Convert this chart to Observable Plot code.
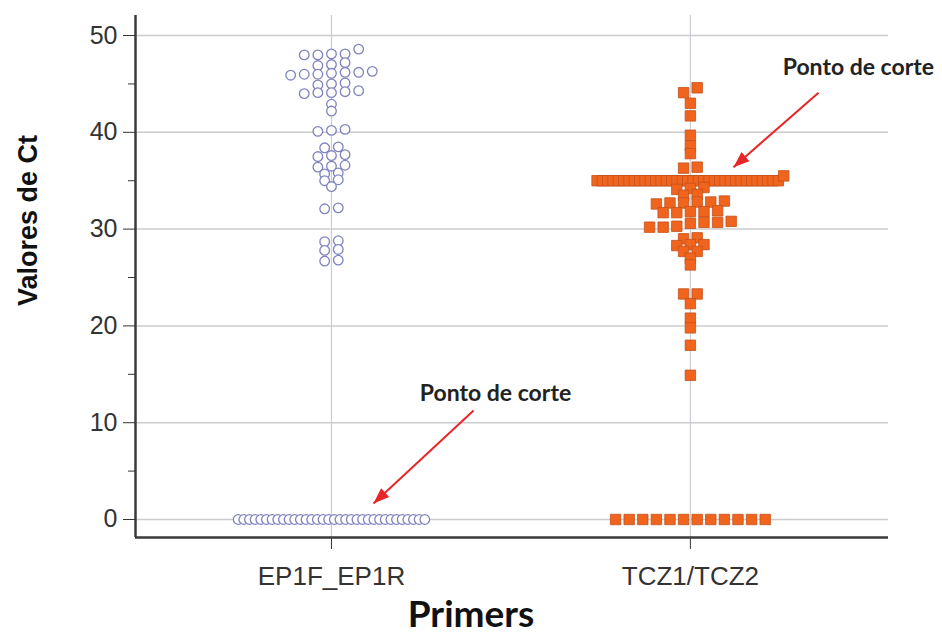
<!DOCTYPE html>
<html>
<head>
<meta charset="utf-8">
<script src="https://cdn.jsdelivr.net/npm/d3@7"></script>
<script src="https://cdn.jsdelivr.net/npm/@observablehq/plot@0.6"></script>
<style>
  html, body { margin: 0; padding: 0; background: #ffffff; }
  #chart { width: 942px; height: 636px; }
</style>
</head>
<body>
<div id="chart"></div>
<script>
// ---------- data ----------
const primers = ["EP1F_EP1R", "TCZ1/TCZ2"];

const ep1Values = [
  48.6, 48.1, 48.1, 48.0, 48.0,
  47.2, 47.0, 46.9,
  46.3, 46.2, 46.0, 46.1, 46.0, 45.9, 46.2,
  45.1, 45.0, 44.9,
  44.3, 44.2, 44.1, 44.0, 44.1,
  42.9, 42.2,
  40.3, 40.2, 40.1,
  38.5, 38.4,
  37.7, 37.6, 37.5,
  36.6, 36.5, 36.4,
  35.8, 35.7,
  35.1, 35.0,
  34.4,
  32.2, 32.1,
  28.8, 28.7,
  27.9, 27.8,
  26.8, 26.7,
  0, 0, 0, 0, 0, 0, 0, 0, 0, 0, 0, 0, 0, 0, 0, 0, 0,
  0, 0, 0, 0, 0, 0, 0, 0, 0, 0, 0, 0, 0, 0, 0, 0, 0
];

const tczValues = [
  44.6, 44.1,
  43.0, 41.7,
  39.7, 38.6, 37.8,
  36.4, 36.3,
  35.5,
  35.0, 35.0, 35.0, 35.0, 35.0, 35.0, 35.0, 35.0, 35.0, 35.0,
  35.0, 35.0, 35.0, 35.0, 35.0, 35.0, 35.0, 35.0, 35.0, 35.0,
  35.0, 35.0, 35.0, 35.0, 35.0, 35.0, 35.0, 35.0, 35.0, 35.0,
  35.0, 35.0, 35.0, 35.0, 35.0,
  34.3, 34.2, 34.1,
  33.6, 33.5,
  32.9, 32.8, 32.7, 32.7, 32.8, 32.6,
  31.9, 31.8, 31.7, 31.8, 31.7,
  30.8, 30.7, 30.7, 30.6, 30.2, 30.2, 30.3,
  29.1, 29.0,
  28.4, 28.4, 28.3,
  27.7, 27.7,
  27.0,
  26.3,
  23.3, 23.3,
  22.3, 20.8, 19.8, 18.0, 14.9,
  0, 0, 0, 0, 0, 0, 0, 0, 0, 0, 0, 0
];

const majorTicks = [0, 10, 20, 30, 40, 50];
const minorTicks = [5, 15, 25, 35, 45];

const notes = [
  {x: 0.457, y: 13.0, text: "Ponto de corte"},
  {x: 1.468, y: 46.7, text: "Ponto de corte"}
];
const arrows = [
  {x1: 0.396, y1: 11.26, x2: 0.117, y2: 1.65},
  {x1: 1.357, y1: 44.1, x2: 1.12, y2: 36.4}
];

// ---------- layout ----------
const W = 942, H = 636;
const mL = 135, mR = 54, mT = 15, mB = 99;
const xDomain = [-0.546, 1.552];
const yDomain = [-1.86, 52.07];

// individual-value-plot style rows: near-equal values sit side by side
const ROW_GAP = 0.65, STEP = 0.0379, MAX_SPAN = 0.52;
function layout(values, index) {
  const sorted = values.slice().sort((a, b) => b - a);
  const groups = [];
  for (const v of sorted) {
    const g = groups[groups.length - 1];
    if (g && g[0] - v < ROW_GAP) g.push(v); else groups.push([v]);
  }
  const out = [];
  for (const g of groups) {
    g.sort((a, b) => a - b);
    const n = g.length;
    const step = n > 1 ? Math.min(STEP, MAX_SPAN / (n - 1)) : 0;
    g.forEach((v, i) => out.push({primer: primers[index], pos: index + (i - (n - 1) / 2) * step, value: v}));
  }
  return out;
}
const ep1Data = layout(ep1Values, 0);
const tczData = layout(tczValues, 1);

const sx = Plot.scale({x: {domain: xDomain, range: [mL, W - mR]}});
const sy = Plot.scale({y: {domain: yDomain, range: [H - mB, mT]}});
const heads = arrows.map(a => ({
  x: a.x2, y: a.y2,
  angle: Math.atan2(sx.apply(a.x2) - sx.apply(a.x1), -(sy.apply(a.y2) - sy.apply(a.y1))) * 180 / Math.PI
}));

const ink = "#333333";
const chart = Plot.plot({
  width: W, height: H,
  marginLeft: mL, marginRight: mR, marginTop: mT, marginBottom: mB,
  x: {domain: xDomain, axis: null},
  y: {domain: yDomain, axis: null},
  style: {fontFamily: "'Liberation Sans', Arial, sans-serif", background: "white", overflow: "visible"},
  marks: [
    Plot.gridY({ticks: majorTicks, stroke: "#cccccc", strokeOpacity: 1, strokeWidth: 1.5}),
    Plot.gridX({ticks: [0, 1], stroke: "#c9ced6", strokeOpacity: 1, strokeWidth: 1.2}),
    Plot.axisY({ticks: majorTicks, tickSize: 12, tickPadding: 6, fontSize: 25, fill: ink, stroke: ink, label: null}),
    Plot.axisY({ticks: minorTicks, tickSize: 7, tickFormat: () => "", stroke: ink, label: null}),
    Plot.axisX({ticks: [0, 1], tickFormat: i => primers[i], tickSize: 12, tickPadding: 17, fontSize: 26, fill: ink, stroke: ink, label: null}),
    Plot.ruleX([xDomain[0]], {stroke: "#3a3a3a", strokeWidth: 2.5}),
    Plot.ruleY([yDomain[0]], {stroke: "#3a3a3a", strokeWidth: 2.5}),
    Plot.dot(ep1Data, {x: "pos", y: "value", r: 4.8, fill: "white", stroke: "#7f83bd", strokeWidth: 1.3}),
    Plot.dot(tczData, {x: "pos", y: "value", symbol: "square", r: 5.9, fill: "#f0641e", stroke: "#c4501c", strokeWidth: 0.8}),
    Plot.link(arrows, {x1: "x1", y1: "y1", x2: "x2", y2: "y2", stroke: "#e8262a", strokeWidth: 2}),
    Plot.vector(heads, {x: "x", y: "y", rotate: "angle", length: 16, r: 6, shape: "spike", anchor: "end", fill: "#e8262a", stroke: "none"}),
    Plot.text(notes, {x: "x", y: "y", text: "text", fontSize: 23, fontWeight: "bold", fill: "#222222", fontFamily: "Lato, 'Open Sans', sans-serif"}),
    Plot.text(["Valores de Ct"], {frameAnchor: "left", textAnchor: "middle", lineAnchor: "middle", rotate: -90, dx: -107, dy: -56, fontSize: 27, fontWeight: "bold", fill: "#111111"}),
    Plot.text(["Primers"], {frameAnchor: "bottom", textAnchor: "middle", dx: -41, dy: 89, fontSize: 37, fontWeight: "bold", fill: "#111111", fontFamily: "Lato, 'Open Sans', sans-serif"})
  ]
});
document.getElementById("chart").appendChild(chart);
</script>
</body>
</html>
